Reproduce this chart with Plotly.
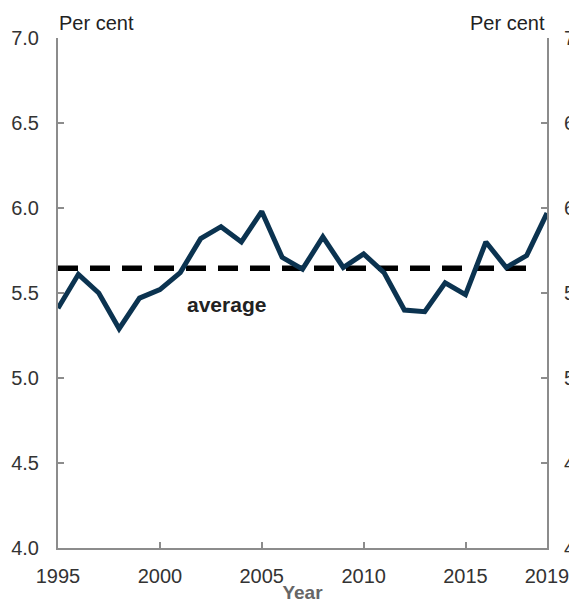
import plotly.graph_objects as go

years = list(range(1995, 2020))
share = [5.41, 5.61, 5.50, 5.29, 5.47, 5.52, 5.62, 5.82, 5.89, 5.80, 5.98, 5.71, 5.64,
         5.83, 5.65, 5.73, 5.62, 5.40, 5.39, 5.56, 5.49, 5.80, 5.65, 5.72, 5.97]
average_value = 5.645
avg_years = [1995, 2018.3]
y_ticks = [4.0, 4.5, 5.0, 5.5, 6.0, 6.5, 7.0]
x_ticks = [1995, 2000, 2005, 2010, 2015, 2019]

axis_grey = "#8c8c8c"
font_family = "Liberation Sans, Arial, sans-serif"

fig = go.Figure()
fig.add_trace(go.Scatter(x=avg_years, y=[average_value] * 2, mode="lines",
                         line=dict(color="black", width=5.5, dash="20px,12px"),
                         showlegend=False, hoverinfo="skip"))
fig.add_trace(go.Scatter(x=years, y=share, mode="lines",
                         line=dict(color="#0b3350", width=5),
                         showlegend=False))
fig.add_trace(go.Scatter(x=[1995], y=[None], yaxis="y2", showlegend=False))

fig.add_annotation(x=2003.25, y=5.43, text="<b>average</b>", showarrow=False,
                   font=dict(size=21, color="#222", family=font_family))
fig.add_annotation(xref="paper", yref="paper", x=0.0, y=1.0, xanchor="left", yanchor="bottom",
                   text="Per cent", showarrow=False, xshift=-1, yshift=2,
                   font=dict(size=20, color="#222", family=font_family))
fig.add_annotation(xref="paper", yref="paper", x=1.0, y=1.0, xanchor="right", yanchor="bottom",
                   text="Per cent", showarrow=False, xshift=0, yshift=2,
                   font=dict(size=20, color="#222", family=font_family))

yaxis_common = dict(range=[4.0, 7.0], tickvals=y_ticks, ticktext=[f"{v:.1f}" for v in y_ticks],
                    showgrid=False, zeroline=False, showline=True, linecolor=axis_grey, linewidth=2,
                    ticks="inside", ticklen=6, tickcolor=axis_grey, tickwidth=2, automargin=False,
                    ticklabeloverflow="allow",
                    tickfont=dict(size=20, color="#333", family=font_family))

fig.update_layout(
    width=569, height=603,
    margin=dict(l=58, r=22, t=38, b=55),
    plot_bgcolor="white", paper_bgcolor="white",
    xaxis=dict(range=[1995, 2019], tickvals=x_ticks, ticktext=[str(v) for v in x_ticks],
               showgrid=False, zeroline=False, showline=True, linecolor=axis_grey, linewidth=2,
               ticks="inside", ticklen=6, tickcolor=axis_grey, tickwidth=2, automargin=False,
               ticklabelstandoff=9, ticklabeloverflow="allow",
               tickfont=dict(size=20, color="#333", family=font_family),
               title=dict(text="<b>Year</b>", standoff=0,
                          font=dict(size=19, color="#666", family=font_family))),
    yaxis=dict(**yaxis_common, side="left", ticklabelstandoff=13),
    yaxis2=dict(**yaxis_common, side="right", overlaying="y", ticklabelstandoff=11),
)

fig.write_html("out.html", config={"displayModeBar": False},
               post_script="document.body.style.margin='0';document.body.style.overflow='hidden';")
